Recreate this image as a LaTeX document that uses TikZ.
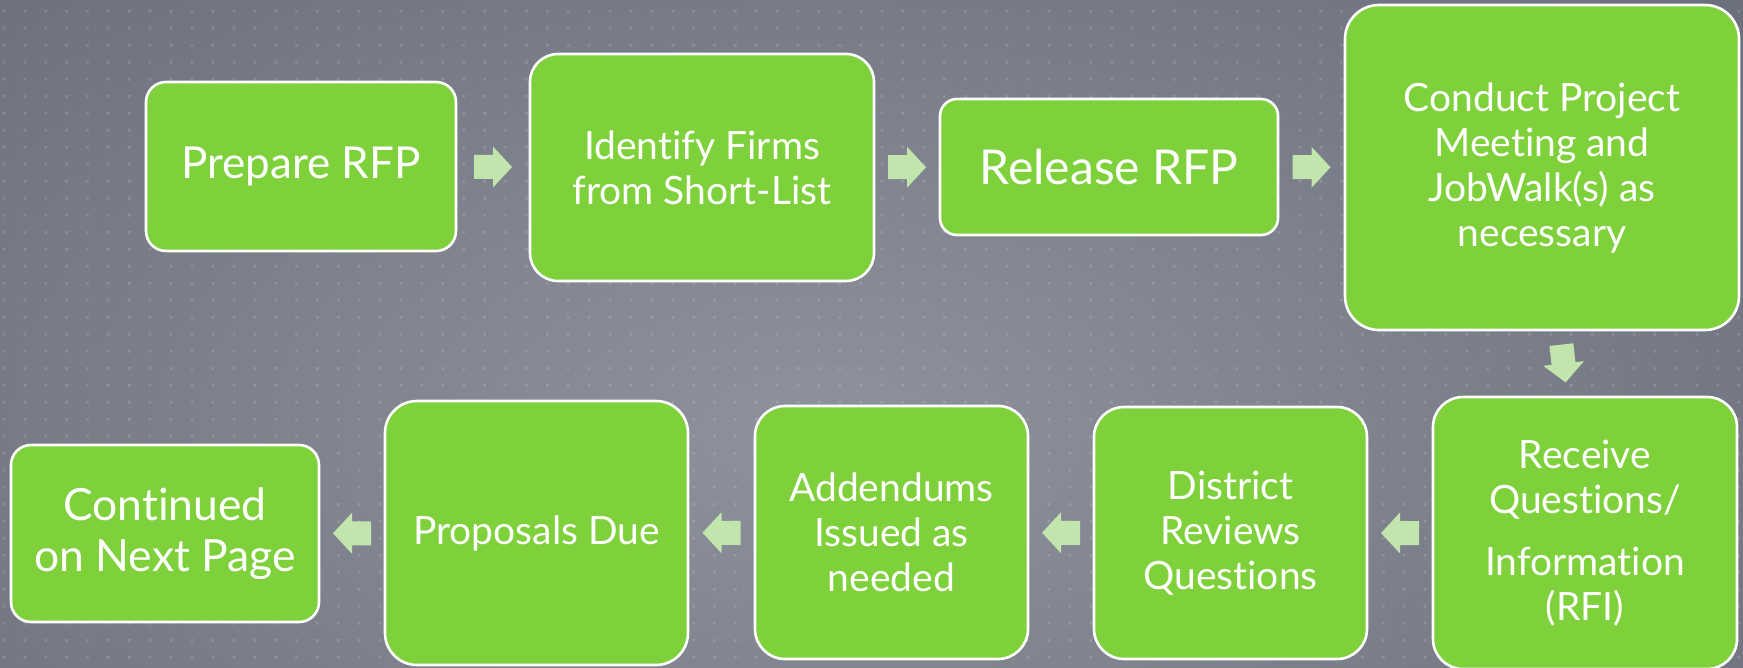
\documentclass[tikz,border=0pt]{standalone}
\usepackage{fontspec}
\setmainfont{Lato}[Ligatures=NoCommon]
\usetikzlibrary{calc}
\definecolor{boxgreen}{RGB}{126,209,59}
\definecolor{arrowgreen}{RGB}{194,229,173}
\definecolor{bgouter}{RGB}{88,93,107}
\definecolor{bginner}{RGB}{142,146,156}
\tikzset{
  stepbox/.style={draw=white, line width=1.3pt, fill=boxgreen, text=white,
    align=center, inner sep=0pt, font=\fontsize{19.5}{22.5}\selectfont},
  flowarrow/.pic={\fill[arrowgreen] (-9.5pt,-6pt) -- (0pt,-6pt) -- (0pt,-10.25pt)
    -- (9.5pt,0pt) -- (0pt,10.25pt) -- (0pt,6pt) -- (-9.5pt,6pt) -- cycle;}
}
\begin{document}
\begin{tikzpicture}[x=0.5pt,y=-0.5pt]
\useasboundingbox (0,0) rectangle (1743,668);
\fill[bgouter] (0,0) rectangle (1743,668);
\begin{scope}
\clip (0,0) rectangle (1743,668);
\shade[inner color=bginner, outer color=bgouter] (820,430) ellipse (950pt and 500pt);
\end{scope}
\fill[white, opacity=0.15] \foreach \i in {0,...,83}{\foreach \j in {0,...,38}{
  ({2.7+20.9*\i},{10+17*\j}) rectangle ++(2.4,2.6) }};

\node[stepbox, minimum width=155pt, minimum height=84.5pt, rounded corners=10pt,
  font=\fontsize{22}{26}\selectfont] (prep) at (301,166.5) {Prepare RFP};
\node[stepbox, minimum width=172pt, minimum height=113.5pt, rounded corners=14pt]
  (ident) at (702,167.5) {Identify Firms\\from Short-List};
\node[stepbox, minimum width=169pt, minimum height=68pt, rounded corners=8.5pt,
  font=\fontsize{24}{28}\selectfont] (rel) at (1109,167) {Release RFP};
\node[stepbox, minimum width=197pt, minimum height=162.5pt, rounded corners=17pt]
  (cond) at (1542,167.5) {Conduct Project\\Meeting and\\JobWalk(s) as\\necessary};
\node[stepbox, minimum width=152pt, minimum height=136pt, rounded corners=15pt]
  (recv) at (1585,533) {Receive\\Questions/\\[8.5pt]Information\\(RFI)};
\node[stepbox, minimum width=136.5pt, minimum height=126pt, rounded corners=15pt]
  (dist) at (1230.5,533) {District\\Reviews\\Questions};
\node[stepbox, minimum width=136.5pt, minimum height=126.5pt, rounded corners=15pt]
  (adden) at (891.5,532.5) {Addendums\\Issued as\\needed};
\node[stepbox, minimum width=151.5pt, minimum height=132pt, rounded corners=16pt]
  (prop) at (536.5,533) {Proposals Due};
\node[stepbox, minimum width=154pt, minimum height=88.5pt, rounded corners=10pt,
  font=\fontsize{22.2}{25.5}\selectfont] (cont) at (165,533.5) {Continued\\on Next Page};

\pic at ($(prep.east)!0.5!(ident.west)$) {flowarrow};
\pic at ($(ident.east)!0.5!(rel.west)$) {flowarrow};
\pic at ($(rel.east)!0.5!(cond.west)$) {flowarrow};
\pic[rotate=-83.5] at ($(cond.south)!0.5!(recv.north)$) {flowarrow};
\pic[rotate=180] at ($(recv.west)!0.5!(dist.east)$) {flowarrow};
\pic[rotate=180] at ($(dist.west)!0.5!(adden.east)$) {flowarrow};
\pic[rotate=180] at ($(adden.west)!0.5!(prop.east)$) {flowarrow};
\pic[rotate=180] at ($(prop.west)!0.5!(cont.east)$) {flowarrow};
\end{tikzpicture}
\end{document}
